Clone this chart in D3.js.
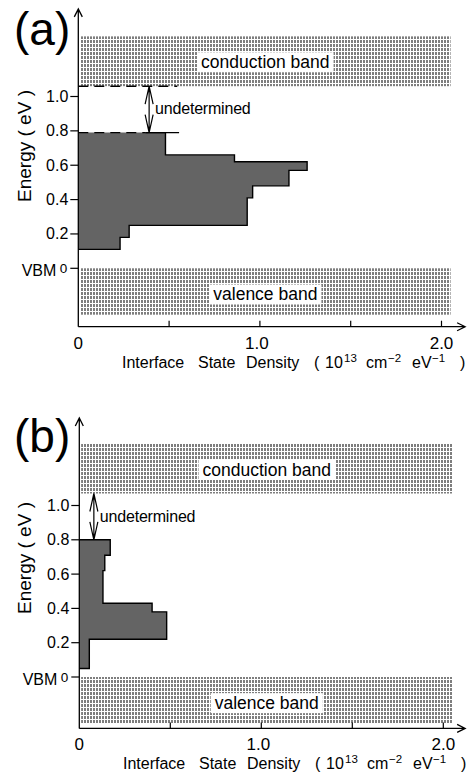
<!DOCTYPE html>
<html>
<head>
<meta charset="utf-8">
<script src="https://cdn.jsdelivr.net/npm/d3@7"></script>
<style>
  html, body { margin: 0; padding: 0; background: #fff; }
  svg { display: block; font-family: "Liberation Sans", Arial, sans-serif; }
</style>
</head>
<body>
<svg id="chart" width="469" height="784"></svg>
<script>
// Energy axis ticks (eV above the valence band maximum) and density axis ticks
const energyTicks = [0.2, 0.4, 0.6, 0.8, 1.0];
const densityTicks = [0.5, 1.0, 1.5, 2.0];
const densityTickLabels = [0, 1.0, 2.0];

// (a) interface state density histogram: bin edges (eV) and density per bin (1e13 cm^-2 eV^-1)
const edgesA = [0.11, 0.18, 0.25, 0.41, 0.48, 0.57, 0.62, 0.66, 0.79];
const densityA = [0.23, 0.28, 0.93, 0.96, 1.16, 1.26, 0.86, 0.48];

// (b) interface state density histogram
const edgesB = [0.05, 0.22, 0.38, 0.43, 0.62, 0.71, 0.80];
const densityB = [0.055, 0.48, 0.40, 0.13, 0.14, 0.17];

// Band extents (eV) and the density range they are drawn across
const conductionA = [1.06, 1.35];
const conductionB = [1.07, 1.36];
const valenceBand = [-0.27, 0];
const bandDensity = [0.01, 2.05];

// Undetermined gap marker: position along the density axis
const gapArrowA = 0.39;
const gapArrowB = 0.08;

const svg = d3.select("#chart");

const defs = svg.append("defs");
defs.append("pattern")
  .attr("id", "dots")
  .attr("patternUnits", "userSpaceOnUse")
  .attr("width", 3).attr("height", 4)
  .append("rect")
  .attr("width", 2).attr("height", 3)
  .attr("fill", "#7e7e7e");

function drawPanel(cfg) {
  const g = svg.append("g");
  const x = d3.scaleLinear().domain([0, 2]).range(cfg.xRange);
  const y = d3.scaleLinear().domain([0, 1]).range(cfg.yRange);
  const axisY = y(cfg.axisEnergy);
  const topY = y(cfg.topEnergy);
  const axisEndX = x(cfg.axisEndDensity);

  // Bands
  const bandRect = (e, label, dy) => {
    g.append("rect")
      .attr("x", x(bandDensity[0]))
      .attr("y", y(e[1]))
      .attr("width", x(bandDensity[1]) - x(bandDensity[0]))
      .attr("height", y(e[0]) - y(e[1]))
      .attr("fill", "url(#dots)");
    const cx = x((bandDensity[0] + bandDensity[1]) / 2);
    const cy = (y(e[0]) + y(e[1])) / 2 + dy;
    const t = g.append("text")
      .attr("x", cx).attr("y", cy)
      .attr("text-anchor", "middle")
      .attr("dominant-baseline", "central")
      .attr("font-size", 17.5)
      .attr("fill", "#000")
      .text(label);
    const bb = t.node().getBBox();
    g.insert("rect", () => t.node())
      .attr("x", bb.x - 4).attr("y", cy - 10)
      .attr("width", bb.width + 8).attr("height", 20)
      .attr("fill", "#fff");
  };
  bandRect(cfg.conduction, "conduction band", 1);
  bandRect(valenceBand, "valence band", 3);

  // Histogram fill
  const edges = cfg.edges, dens = cfg.density;
  const n = dens.length;
  const pts = [[0, edges[n]]];
  for (let i = n - 1; i >= 0; i--) {
    pts.push([dens[i], edges[i + 1]]);
    pts.push([dens[i], edges[i]]);
  }
  pts.push([0, edges[0]]);
  const line = d3.line().x(d => x(d[0])).y(d => y(d[1]));
  g.append("path")
    .attr("d", line(pts) + "Z")
    .attr("fill", "#646464")
    .attr("stroke", "none");

  // Histogram outline (top edge may be replaced by a dashed reference line)
  const outline = pts.slice(1);
  outline.unshift([cfg.outlineStart, edges[n]]);
  g.append("path")
    .attr("d", line(outline))
    .attr("fill", "none")
    .attr("stroke", "#000")
    .attr("stroke-width", 1.4);

  // Reference lines
  cfg.refLines.forEach(r => {
    g.append("line")
      .attr("x1", x(r.from)).attr("x2", x(r.to))
      .attr("y1", y(r.energy)).attr("y2", y(r.energy))
      .attr("stroke", "#000")
      .attr("stroke-width", 1.4)
      .attr("stroke-dasharray", r.dashed ? "10,6" : null);
  });

  // Undetermined double arrow
  const ax = x(cfg.gapArrow);
  const y1 = y(cfg.conduction[0]), y2 = y(edges[n]);
  const head = 18, hw = 4;
  g.append("path")
    .attr("d", `M${ax},${y1}V${y2}` +
      `M${ax - hw},${y1 + head}L${ax},${y1}L${ax + hw},${y1 + head}` +
      `M${ax - hw},${y2 - head}L${ax},${y2}L${ax + hw},${y2 - head}`)
    .attr("fill", "none")
    .attr("stroke", "#000")
    .attr("stroke-width", 1.2);
  g.append("text")
    .attr("x", ax + 6).attr("y", (y1 + y2) / 2 + 5)
    .attr("font-size", 16)
    .attr("letter-spacing", -0.2)
    .text("undetermined");

  // Axes
  const x0 = x(0);
  g.append("path")
    .attr("d", `M${x0},${axisY}V${topY}M${x0 - 4},${topY + 8}L${x0},${topY}L${x0 + 4},${topY + 8}`)
    .attr("fill", "none").attr("stroke", "#000").attr("stroke-width", 1.3);
  g.append("path")
    .attr("d", `M${x0},${axisY}H${axisEndX}M${axisEndX - 8},${axisY - 4}L${axisEndX},${axisY}L${axisEndX - 8},${axisY + 4}`)
    .attr("fill", "none").attr("stroke", "#000").attr("stroke-width", 1.3);

  // Energy ticks
  [0].concat(energyTicks).forEach(e => {
    g.append("line")
      .attr("x1", x0 - 8).attr("x2", x0)
      .attr("y1", y(e)).attr("y2", y(e))
      .attr("stroke", "#000").attr("stroke-width", 1.2);
  });
  energyTicks.forEach(e => {
    g.append("text")
      .attr("x", x0 - 10).attr("y", y(e))
      .attr("text-anchor", "end")
      .attr("dominant-baseline", "central")
      .attr("font-size", 16)
      .text(d3.format(".1f")(e));
  });
  g.append("text")
    .attr("x", x0 - 11).attr("y", y(0))
    .attr("text-anchor", "end")
    .attr("dominant-baseline", "central")
    .attr("font-size", 13.5)
    .text("0");
  g.append("text")
    .attr("x", x0 - 22).attr("y", y(0) + 2)
    .attr("text-anchor", "end")
    .attr("dominant-baseline", "central")
    .attr("font-size", 16)
    .text("VBM");

  // Density ticks
  densityTicks.forEach(d => {
    g.append("line")
      .attr("x1", x(d)).attr("x2", x(d))
      .attr("y1", axisY).attr("y2", axisY - 6)
      .attr("stroke", "#000").attr("stroke-width", 1.2);
  });
  densityTickLabels.forEach(d => {
    g.append("text")
      .attr("x", x(d) - (d === 1 ? 3 : 0)).attr("y", axisY + 22)
      .attr("text-anchor", "middle")
      .attr("font-size", 17)
      .text(d === 0 ? "0" : d3.format(".1f")(d));
  });

  // Density axis title
  const ty = axisY + 41;
  const word = (xx, s, size, dy) => g.append("text")
    .attr("x", xx).attr("y", ty + (dy || 0))
    .attr("font-size", size).text(s);
  const off = cfg.xRange[0] - 78.3;
  word(122 + off, "Interface", 16);
  word(198 + off, "State", 16);
  word(246 + off, "Density", 16);
  word(314 + off, "(", 16);
  word(325 + off, "10", 16);
  word(344 + off, "13", 11.5, -6);
  word(366 + off, "cm", 16);
  word(388 + off, "\u22122", 11.5, -6);
  word(412 + off, "eV", 16);
  word(432 + off, "\u22121", 11.5, -6);
  word(460 + off, ")", 16);

  // Energy axis title
  g.append("text")
    .attr("transform", `translate(31,${cfg.energyTitleY}) rotate(-90)`)
    .attr("text-anchor", "middle")
    .attr("font-size", 19)
    .text("Energy ( eV )");

  // Panel letter
  g.append("text")
    .attr("x", 14).attr("y", cfg.letterY)
    .attr("font-size", 46)
    .text(cfg.letter);
}

drawPanel({
  letter: "(a)", letterY: 45,
  xRange: [78.3, 441.5], yRange: [268.3, 96.5],
  axisEnergy: -0.34, topEnergy: 1.51, axisEndDensity: 2.13,
  edges: edgesA, density: densityA, conduction: conductionA,
  gapArrow: gapArrowA, outlineStart: 0.37,
  refLines: [
    { energy: conductionA[0], from: 0, to: 0.545, dashed: true },
    { energy: edgesA[edgesA.length - 1], from: 0, to: 0.37, dashed: true },
    { energy: edgesA[edgesA.length - 1], from: 0.37, to: 0.555, dashed: false }
  ],
  energyTitleY: 146
});

drawPanel({
  letter: "(b)", letterY: 452,
  xRange: [79.3, 443.3], yRange: [677, 505.5],
  axisEnergy: -0.30, topEnergy: 1.51, axisEndDensity: 2.12,
  edges: edgesB, density: densityB, conduction: conductionB,
  gapArrow: gapArrowB, outlineStart: 0,
  refLines: [],
  energyTitleY: 558
});
</script>
</body>
</html>
